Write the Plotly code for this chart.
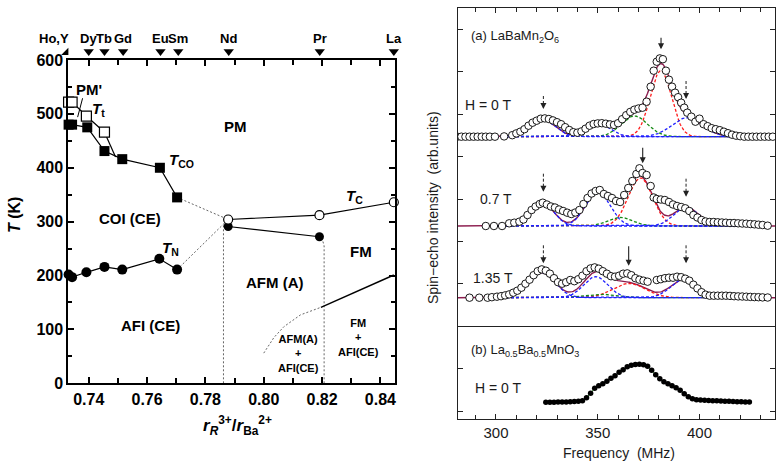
import numpy as np
import plotly.graph_objects as go

# ================= LEFT PANEL: phase diagram =================
ELEM_NAMES = ["Ho,Y", "Dy", "Tb", "Gd", "Eu", "Sm", "Nd", "Pr", "La"]
ELEM_R = [0.7322, 0.7400, 0.7454, 0.7518, 0.7646, 0.7707, 0.7880, 0.8192, 0.8446]

# PM' -> PM transition (open squares)
TT_R = [0.7331, 0.7343, 0.7392, 0.7454]
TT_T = [522, 522, 496, 466]
TT_END_R = [0.7454, 0.7492]
TT_END_T = [466, 420]
# charge-order temperature (filled squares)
TCO_R = [0.7331, 0.7343, 0.7395, 0.7454, 0.7515, 0.7644, 0.7703]
TCO_T = [480, 480, 475, 431, 416, 400, 345]
# Neel temperature CE (filled circles)
TN_R = [0.7331, 0.7343, 0.7392, 0.7454, 0.7515, 0.7642, 0.7703]
TN_T = [202, 197, 206, 216, 211, 231, 211]
# Neel temperature A-type (filled circles)
TNA_R = [0.7878, 0.8191]
TNA_T = [291, 272]
# Curie temperature (open circles)
TC_R = [0.7878, 0.8191, 0.8446]
TC_T = [304, 312, 336]
# phase boundaries (dashed)
B1_R = [0.7703, 0.7878]
B1_T = [345, 304]
B2_R = [0.7703, 0.7878]
B2_T = [211, 304]
B3_R = [0.7862, 0.7862]
B3_T = [0, 295]
B4_R = [0.8207, 0.8207, 0.8203, 0.8195]
B4_T = [0, 255, 263, 269]
B5_R = [0.8000, 0.8035, 0.8069, 0.8126, 0.8196]
B5_T = [56, 85, 105, 127, 141]
# FM / FM+AFI boundary (solid)
B6_R = [0.8196, 0.8446]
B6_T = [141, 201]

# ================= RIGHT PANEL: NMR spectra =================
H0_F = [281, 283, 285, 287, 289, 291, 293, 295, 297, 299.5,
        304, 308, 310, 312, 314, 316, 318, 320, 322, 324,
        326, 328, 330, 332, 334, 336, 338, 340, 342, 344,
        346, 348, 350, 352, 354, 356, 358, 360, 362, 364,
        366, 368, 370, 372, 374, 376, 377.5, 379, 380.5, 382,
        383.5, 385, 386.5, 388, 389.5, 391, 392.5, 394, 396, 398,
        400, 402, 404, 406, 408, 410, 412, 414, 416, 418,
        420, 422, 424, 426, 428, 430, 432, 434, 436]
H0_V = [0, 0, 0, 0, 0, 0, 0, 0, 0, 0,
        0.3, 1.5, 3.3, 5, 7.5, 11, 14, 16, 18, 18.3,
        17.7, 16.3, 14.5, 12.5, 9.5, 6.7, 4.5, 4, 5.3, 8,
        11, 12.7, 13.3, 13.5, 13, 12.3, 11.8, 13.5, 17.5, 21.5,
        24.8, 27, 28.2, 29, 35, 50, 66, 75, 78.3, 77.5,
        66, 57, 50, 44, 39.5, 34, 29, 24, 20, 15,
        18, 12.5, 10.5, 8.5, 7.5, 6.5, 5, 3.5, 2, 1,
        0.5, 0, 0, 0, 0, 0, 0, 0, 0]

T07_F = [295, 299, 303, 306.5, 309, 311.5, 313.5, 315.5, 317.5, 319.5,
         321.5, 323, 325, 327, 329, 331, 333, 335, 337, 339,
         341, 343, 345, 347, 349, 351, 353, 355, 357, 359,
         361, 363, 365, 367, 369, 370.5, 372, 374, 376, 377.5,
         379, 381, 383, 385, 387, 389, 391, 393, 395, 397,
         399, 401, 403, 405, 407, 409, 411, 413, 415, 417,
         419, 421, 423, 425, 427, 429, 431, 433.5]
T07_V = [0, 0, 0, 2.7, 3.3, 4.3, 6.5, 11, 16, 19.5,
         22, 23.3, 21.5, 19.5, 18.5, 16.5, 15, 13.3, 12, 13.5,
         16, 22, 28, 32.5, 35, 36, 32, 30, 28, 25,
         24, 31, 38, 45, 52, 57.7, 53, 51, 40, 28.5,
         27, 26.5, 26, 24, 21.5, 20, 19, 17.7, 15, 11,
         8.5, 6, 4.5, 4, 4, 3.7, 3.5, 3.3, 3, 3,
         2.7, 2.5, 2.3, 2, 1.7, 1.3, 1, 0.3]

T135_F = [287, 291.8, 295.9, 298, 300.5, 302.5, 304.5, 306.5, 308.5, 310.5,
          312.5, 314.5, 316.5, 318.5, 320.5, 322.5, 324.5, 326.5, 328.5, 330.5,
          332.5, 334.5, 336.5, 338.5, 340.5, 342.5, 344.5, 346.5, 348.5, 350.5,
          352.5, 354.5, 356.5, 358.5, 360.5, 362.5, 364.5, 366.5, 368.5, 370.5,
          372.5, 374.5, 379, 381, 383, 385, 387, 389, 391, 393,
          395, 397, 399, 401, 403, 405, 407, 409, 411, 413,
          415, 417, 419, 421, 423, 425, 427, 429, 431, 433.5]
T135_V = [0, 0, 0, 0.5, 1, 1.5, 2.3, 3.3, 5, 7,
          10, 14, 18, 22.5, 26.5, 28.3, 27, 24, 19.5, 15.5,
          14, 15.5, 17.7, 16.5, 18.5, 22, 26.5, 29.3, 30.3, 29,
          26.5, 24, 21.5, 21, 22, 24, 24.3, 22.5, 19.5, 18,
          17, 16, 17.7, 18.5, 19.5, 20, 20, 21, 20.5, 19,
          17, 13, 9.3, 5.5, 3, 2, 2, 2, 2, 2,
          1.8, 1.5, 1.3, 1.2, 1, 0.8, 0.6, 0.5, 0.3, 0.2]

B_F = [324.5, 326.5, 328.5, 330.5, 332.5, 334.5, 336.5, 338.5, 340.5, 342.5,
       344.5, 346.5, 348.5, 350.5, 352.5, 354.5, 356.5, 358.5, 360.5, 362.5,
       364.5, 366.5, 368.5, 370.5, 372.5, 374.5, 376.5, 378.5, 380.5, 382.5,
       384.5, 386.5, 388.5, 390.5, 392.5, 394.5, 396.5, 398.5, 400.5, 402.5,
       404.5, 406.5, 408.5, 410.5, 412.5, 414.5, 416.5, 418.5, 420.5, 422.5, 424.5]
B_V = [0, 0, 0.1, 0.2, 0.3, 0.4, 0.6, 0.8, 1.0, 1.5,
       4.5, 9, 14, 16.5, 18.5, 21, 24, 26.5, 30, 32.5,
       35.5, 37, 37.8, 38, 37.5, 36, 32, 27.5, 23.5, 20.5,
       18.5, 16.5, 14.5, 12, 8.5, 5.5, 3.5, 2.5, 2.3, 2.0,
       1.8, 1.6, 1.5, 1.3, 1.1, 1.0, 0.8, 0.6, 0.5, 0.4, 0.3]

# Gaussian fit components (order: blue, blue, green, red, blue)
H0_FIT_C = [323, 350, 368, 381, 394]
H0_FIT_A = [17, 13, 20.7, 66, 19]
H0_FIT_W = [6, 6, 6.5, 5.2, 7.6]
T07_FIT_C = [323, 350, 361, 371, 393.4]
T07_FIT_A = [23, 34, 8.7, 48, 19]
T07_FIT_W = [5.5, 6, 6, 6, 6]
T135_FIT_C = [322.6, 349, 351, 365.5, 391.7]
T135_FIT_A = [25, 21, 3.5, 14.3, 17.7]
T135_FIT_W = [6.5, 6, 8, 8, 6]

# ---------- layout constants ----------
FONT = "Liberation Sans, Arial, sans-serif"
W, H = 776, 463
L_X0, L_X1, L_TOP, L_BOT = 68.3, 395.0, 60.0, 383.3      # left frame in pixels
X_LO, X_HI = 0.733, 0.845
OFF_H0, OFF_07, OFF_135, OFF_B = 282.3, 193.0, 121.3, 16.7
DIVIDER_Y = 92.5
COMP_COLORS = ["#1f1fff", "#1f1fff", "#138a13", "#ff1a1a", "#1f1fff"]
SUM_COLOR = "#8c1c4e"

fig = go.Figure()

# ---------- left panel traces ----------
DASH_LINE = dict(color="#555555", width=0.9, dash="2px,2px")
for bx, bt in [(B1_R, B1_T), (B2_R, B2_T), (B3_R, B3_T), (B4_R, B4_T), (B5_R, B5_T)]:
    fig.add_trace(go.Scatter(x=bx, y=bt, mode="lines", line=DASH_LINE,
                             xaxis="x", yaxis="y", hoverinfo="skip"))
fig.add_trace(go.Scatter(x=B6_R, y=B6_T, mode="lines", line=dict(color="black", width=1.4),
                         xaxis="x", yaxis="y", cliponaxis=False))
fig.add_trace(go.Scatter(x=TT_END_R, y=TT_END_T, mode="lines", line=dict(color="black", width=1.2),
                         xaxis="x", yaxis="y"))
fig.add_trace(go.Scatter(x=TCO_R, y=TCO_T, mode="lines+markers", xaxis="x", yaxis="y",
                         line=dict(color="black", width=1.2), cliponaxis=False,
                         marker=dict(symbol="square", size=10, color="black")))
fig.add_trace(go.Scatter(x=TT_R, y=TT_T, mode="lines+markers", xaxis="x", yaxis="y",
                         line=dict(color="black", width=1.2), cliponaxis=False,
                         marker=dict(symbol="square", size=10, color="white",
                                     line=dict(color="black", width=1.2))))
fig.add_trace(go.Scatter(x=TN_R, y=TN_T, mode="lines+markers", xaxis="x", yaxis="y",
                         line=dict(color="black", width=1.2), cliponaxis=False,
                         marker=dict(symbol="circle", size=10, color="black")))
fig.add_trace(go.Scatter(x=TNA_R, y=TNA_T, mode="lines+markers", xaxis="x", yaxis="y",
                         line=dict(color="black", width=1.2), cliponaxis=False,
                         marker=dict(symbol="circle", size=9, color="black")))
fig.add_trace(go.Scatter(x=TC_R, y=TC_T, mode="lines+markers", xaxis="x", yaxis="y",
                         line=dict(color="black", width=1.2), cliponaxis=False,
                         marker=dict(symbol="circle", size=9, color="white",
                                     line=dict(color="black", width=1.2))))

# element markers in a strip above the frame (same r scale, extended to the page edge)
fig.add_trace(go.Scatter(x=ELEM_R[1:], y=[8.5] * (len(ELEM_R) - 1), mode="markers",
                         xaxis="x3", yaxis="y3", cliponaxis=False,
                         marker=dict(symbol="triangle-down", size=9, color="black")))
fig.add_trace(go.Scatter(x=ELEM_R[:1], y=[7.5], mode="markers",
                         xaxis="x3", yaxis="y3", cliponaxis=False,
                         marker=dict(symbol="triangle-se", size=8, color="black")))

# ---------- right panel traces ----------
grid = np.arange(281.0, 437.6, 0.5)
comp_grid = grid[(grid >= 300) & (grid <= 430)]


def gauss(f, c, a, w):
    return a * np.exp(-((f - c) ** 2) / (2.0 * w ** 2))


def add_spectrum(F, V, C, A, Wd, off):
    total = sum(gauss(grid, c, a, w) for c, a, w in zip(C, A, Wd))
    fig.add_trace(go.Scatter(x=grid, y=total + off, mode="lines", xaxis="x2", yaxis="y2",
                             line=dict(color=SUM_COLOR, width=1.4), hoverinfo="skip"))
    for i in [3, 2, 0, 1, 4]:
        fig.add_trace(go.Scatter(x=comp_grid, y=gauss(comp_grid, C[i], A[i], Wd[i]) + off,
                                 mode="lines", xaxis="x2", yaxis="y2", hoverinfo="skip",
                                 line=dict(color=COMP_COLORS[i], width=1.3, dash="3px,2px")))
    fig.add_trace(go.Scatter(x=F, y=np.array(V) + off, mode="markers", xaxis="x2", yaxis="y2",
                             marker=dict(symbol="circle", size=7.5, color="white",
                                         line=dict(color="black", width=0.9))))


add_spectrum(H0_F, H0_V, H0_FIT_C, H0_FIT_A, H0_FIT_W, OFF_H0)
add_spectrum(T07_F, T07_V, T07_FIT_C, T07_FIT_A, T07_FIT_W, OFF_07)
add_spectrum(T135_F, T135_V, T135_FIT_C, T135_FIT_A, T135_FIT_W, OFF_135)

fig.add_trace(go.Scatter(x=B_F, y=np.array(B_V) + OFF_B, mode="lines", xaxis="x2", yaxis="y2",
                         line=dict(color="#2ca02c", width=1), hoverinfo="skip"))
fig.add_trace(go.Scatter(x=B_F, y=np.array(B_V) + OFF_B, mode="markers", xaxis="x2", yaxis="y2",
                         marker=dict(symbol="circle", size=5.5, color="black")))

# ---------- annotations ----------
ann = []


def txt(x, y, s, size=15, bold=True, xref="x", yref="y", xanchor="center", color="black", **kw):
    ann.append(dict(x=x, y=y, xref=xref, yref=yref, text=s, showarrow=False,
                    xanchor=xanchor, yanchor="middle",
                    font=dict(family=FONT, size=size, color=color,
                              weight="bold" if bold else "normal"), **kw))


# element names (above the triangles)
for name, r in zip(ELEM_NAMES, ELEM_R):
    txt(r, 21.5, name, size=13, xref="x3", yref="y3", xshift=-12 if name == "Ho,Y" else 0)

txt(0.7402, 545, "PM'", size=15)
txt(0.7432, 508, "<i>T</i><sub>t</sub>", size=15)
txt(0.7903, 476, "PM", size=15)
txt(0.7717, 413, "<i>T</i><sub>CO</sub>", size=15)
txt(0.8311, 346, "<i>T</i><sub>C</sub>", size=15)
txt(0.7543, 306, "COI (CE)", size=15)
txt(0.7680, 251, "<i>T</i><sub>N</sub>", size=15)
txt(0.7612, 108, "AFI (CE)", size=15)
txt(0.8037, 188, "AFM (A)", size=15)
txt(0.8332, 244, "FM", size=15)
txt(0.8120, 55, "AFM(A)<br>+<br>AFI(CE)", size=11)
txt(0.8326, 85, "FM<br>+<br>AFI(CE)", size=11)
txt(15 / W, 1 - 215 / H, "<i>T</i> (K)", size=16, xref="paper", yref="paper", textangle=-90)
txt(237 / W, 1 - 425 / H,
    "<i>r</i><sub><i>R</i></sub><sup>3+</sup>/<i>r</i><sub>Ba</sub><sup>2+</sup>",
    size=17, xref="paper", yref="paper")

RC = "#1a1a1a"
txt(286.7, 382, "(a) LaBaMn<sub>2</sub>O<sub>6</sub>", size=13, bold=False, xref="x2", yref="y2",
    xanchor="left", color=RC)
txt(283.8, 314, "H = 0 T", size=14, bold=False, xref="x2", yref="y2", xanchor="left", color=RC)
txt(291.2, 220, "0.7 T", size=14, bold=False, xref="x2", yref="y2", xanchor="left", color=RC)
txt(287.7, 141, "1.35 T", size=14, bold=False, xref="x2", yref="y2", xanchor="left", color=RC)
txt(286.7, 69, "(b) La<sub>0.5</sub>Ba<sub>0.5</sub>MnO<sub>3</sub>", size=13, bold=False,
    xref="x2", yref="y2", xanchor="left", color=RC)
txt(288.7, 31, "H = 0 T", size=14, bold=False, xref="x2", yref="y2", xanchor="left", color=RC)
txt(619 / W, 1 - 453 / H, "Frequency  (MHz)", size=14, bold=False, xref="paper", yref="paper",
    color=RC)
txt(433 / W, 1 - 208 / H, "Spin\u2212echo intensity  (arb.units)", size=14, bold=False,
    xref="paper", yref="paper", textangle=-90, color=RC)

# arrows: (freq, tip height above baseline, length, dashed)
ARROWS = [
    (OFF_H0, [(323.3, 27.7, 14, True), (381.1, 87.4, 13, False), (393.4, 37.7, 20, True)]),
    (OFF_07, [(323.3, 34.3, 20, True), (372.1, 62.7, 17, False), (393.4, 29.3, 20, True)]),
    (OFF_135, [(323.3, 34.4, 20, True), (365.2, 32.0, 21, False), (393.4, 34.4, 20, True)]),
]
shapes = []
for off, lst in ARROWS:
    for f, h, ln, dashed in lst:
        tip = off + h
        if dashed:
            shapes.append(dict(type="line", xref="x2", yref="y2", x0=f, x1=f, y0=tip + 5,
                               y1=tip + ln, line=dict(color="#222", width=1, dash="3px,2px")))
            ann.append(dict(x=f, y=tip, xref="x2", yref="y2", ax=0, ay=-6, text="",
                            showarrow=True, arrowhead=2, arrowsize=1.1, arrowwidth=1.1,
                            arrowcolor="#222"))
        else:
            ann.append(dict(x=f, y=tip, xref="x2", yref="y2", ax=0, ay=-ln, text="",
                            showarrow=True, arrowhead=2, arrowsize=1.1, arrowwidth=1.1,
                            arrowcolor="#222"))

# divider between (a) and (b)
shapes.append(dict(type="line", xref="x2 domain", yref="y2", x0=0, x1=1, y0=DIVIDER_Y,
                   y1=DIVIDER_Y, line=dict(color="#222", width=1)))
# pointer from PM' label to the open square
shapes.append(dict(type="line", xref="x", yref="y", x0=0.7379, y0=529, x1=0.7362, y1=494,
                   line=dict(color="black", width=1)))

TICKF_L = dict(family=FONT, size=16, color="black", weight="bold")
TICKF_R = dict(family=FONT, size=15, color=RC)

px_per_r = (L_X1 - L_X0) / (X_HI - X_LO)
HIDDEN = dict(visible=False, showgrid=False, zeroline=False, automargin=False)

fig.update_layout(
    template="none",
    width=W, height=H, autosize=False,
    margin=dict(l=0, r=0, t=0, b=0, pad=0, autoexpand=False),
    paper_bgcolor="white", plot_bgcolor="rgba(0,0,0,0)", showlegend=False,
    annotations=ann, shapes=shapes,
    xaxis=dict(domain=[L_X0 / W, L_X1 / W], range=[X_LO, X_HI], anchor="y", automargin=False,
               tick0=0.74, dtick=0.02, tickformat=".2f", ticks="inside", ticklen=6,
               tickwidth=1.5, tickcolor="black", showline=True, linewidth=2, linecolor="black",
               mirror="ticks", showgrid=False, zeroline=False, tickfont=TICKF_L,
               minor=dict(dtick=0.01, ticks="inside", ticklen=5, tickwidth=1.5, tickcolor="black",
                          showgrid=False)),
    yaxis=dict(domain=[1 - L_BOT / H, 1 - L_TOP / H], range=[0, 600], anchor="x", automargin=False,
               dtick=100, ticks="inside", ticklen=6, tickwidth=1.5, tickcolor="black",
               showline=True, linewidth=2, linecolor="black", mirror="ticks", showgrid=False,
               zeroline=False, tickfont=TICKF_L,
               minor=dict(dtick=50, ticks="inside", ticklen=4, tickwidth=1.5, tickcolor="black",
                          showgrid=False)),
    xaxis3=dict(domain=[0, L_X1 / W], range=[X_LO - L_X0 / px_per_r, X_HI], anchor="y3", **HIDDEN),
    yaxis3=dict(domain=[1 - L_TOP / H, 1], range=[0, L_TOP], anchor="x3", **HIDDEN),
    xaxis2=dict(domain=[457.5 / W, 775 / W], range=[281.1, 437.1], anchor="y2", automargin=False,
                tick0=300, dtick=50, ticks="inside", ticklen=5, tickwidth=1, tickcolor="#222",
                showline=True, linewidth=1, linecolor="#222", mirror="ticks", showgrid=False,
                zeroline=False, tickfont=TICKF_R,
                minor=dict(dtick=10, ticks="inside", ticklen=4, tickwidth=1, tickcolor="#222",
                           showgrid=False)),
    yaxis2=dict(domain=[1 - 419 / H, 1 - 8 / H], range=[0, 411], anchor="x2", automargin=False,
                tick0=8, dtick=42.4, ticks="inside", ticklen=5, tickwidth=1, tickcolor="#222",
                showticklabels=False, showline=True, linewidth=1, linecolor="#222",
                mirror="ticks", showgrid=False, zeroline=False),
)

fig.write_html("out.html", config={"displayModeBar": False},
               post_script="document.body.style.margin='0px';document.body.style.padding='0px';"
                           "document.body.style.overflow='hidden';")
